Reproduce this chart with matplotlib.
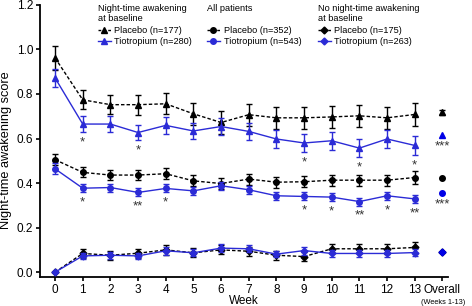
import numpy as np
import matplotlib
matplotlib.use('Agg')
import matplotlib.pyplot as plt
from matplotlib.lines import Line2D

plt.rcParams['font.family'] = ['Liberation Sans', 'DejaVu Sans']

# 周次（0-13）以及 Overall
weeks = list(range(14))
tick_labels = [str(w) for w in weeks] + ['Overall']

# 基线有夜间觉醒
nta_pbo = [0.962, 0.774, 0.752, 0.752, 0.756, 0.711, 0.672, 0.707, 0.693, 0.693, 0.697, 0.702, 0.693, 0.708]
nta_pbo_err = [0.055, 0.042, 0.043, 0.045, 0.048, 0.05, 0.05, 0.05, 0.05, 0.05, 0.05, 0.05, 0.05, 0.05]
nta_tio = [0.872, 0.665, 0.665, 0.627, 0.659, 0.634, 0.654, 0.632, 0.598, 0.580, 0.590, 0.557, 0.598, 0.569]
nta_tio_err = [0.04, 0.035, 0.035, 0.035, 0.037, 0.037, 0.037, 0.037, 0.04, 0.04, 0.04, 0.04, 0.042, 0.042]
nta_overall = [0.717, 0.617]
nta_overall_err = [0.012, 0.0]

# 所有患者
all_pbo = [0.505, 0.448, 0.436, 0.436, 0.442, 0.410, 0.398, 0.418, 0.404, 0.406, 0.413, 0.413, 0.413, 0.425]
all_pbo_err = [0.025, 0.022, 0.022, 0.022, 0.025, 0.025, 0.025, 0.025, 0.025, 0.025, 0.025, 0.025, 0.025, 0.028]
all_tio = [0.464, 0.377, 0.380, 0.358, 0.376, 0.365, 0.388, 0.370, 0.343, 0.340, 0.337, 0.317, 0.343, 0.329]
all_tio_err = [0.025, 0.018, 0.018, 0.018, 0.018, 0.018, 0.018, 0.018, 0.018, 0.018, 0.018, 0.018, 0.018, 0.018]
all_overall = [0.421, 0.355]

# 基线无夜间觉醒
no_pbo = [0.0, 0.084, 0.076, 0.085, 0.100, 0.087, 0.100, 0.094, 0.076, 0.070, 0.105, 0.105, 0.105, 0.111]
no_pbo_err = [0.0, 0.022, 0.02, 0.02, 0.022, 0.02, 0.02, 0.02, 0.02, 0.02, 0.02, 0.02, 0.022, 0.025]
no_tio = [0.0, 0.073, 0.076, 0.073, 0.096, 0.087, 0.108, 0.105, 0.081, 0.097, 0.084, 0.084, 0.084, 0.088]
no_tio_err = [0.0, 0.015, 0.015, 0.015, 0.018, 0.015, 0.018, 0.015, 0.015, 0.018, 0.015, 0.015, 0.015, 0.015]
no_overall = [0.09, 0.09]

# 显著性标记
nta_stars = {1: '*', 3: '*', 9: '*', 11: '*', 13: '*'}
all_stars = {1: '*', 3: '**', 4: '*', 9: '*', 10: '*', 11: '**', 12: '*', 13: '**'}

blue = '#0000e6'
blue_line = '#2b2bd6'
dash = (0, (2.5, 1.5))

fig = plt.figure(figsize=(4.72, 3.06), dpi=100)
ax = fig.add_axes([0.085, 0.096, 0.864, 0.888])

def draw(y, err, marker, color, ls, ms, z):
    ax.errorbar(weeks, y, yerr=err, color=color, ls=ls, lw=1.0, marker=marker,
                ms=ms, capsize=2.5, elinewidth=1.0, capthick=1.0, zorder=z)

draw(nta_pbo, nta_pbo_err, '^', 'black', dash, 4.5, 3)
draw(nta_tio, nta_tio_err, '^', blue_line, '-', 4.5, 4)
draw(all_pbo, all_pbo_err, 'o', 'black', dash, 4, 3)
draw(all_tio, all_tio_err, 'o', blue_line, '-', 4, 4)
draw(no_pbo, no_pbo_err, 'D', 'black', dash, 3.5, 3)
draw(no_tio, no_tio_err, 'D', blue_line, '-', 3.5, 4)

# Overall 点
ax.errorbar([14], [nta_overall[0]], yerr=[nta_overall_err[0]], color='black', marker='^',
            ms=4.5, capsize=2.5, elinewidth=1.0, capthick=1.0, ls='none')
ax.plot([14], [nta_overall[1]], marker='^', color=blue, ms=4.5, ls='none')
ax.plot([14], [all_overall[0]], marker='o', color='black', ms=4, ls='none')
ax.plot([14], [all_overall[1]], marker='o', color=blue, ms=4, ls='none')
ax.plot([14], [no_overall[0]], marker='D', color='black', ms=3.5, ls='none')
ax.plot([14], [no_overall[1]], marker='D', color=blue, ms=3.5, ls='none')

for w, s in nta_stars.items():
    ax.annotate(s, (w, nta_tio[w] - nta_tio_err[w]), xytext=(0, -3), textcoords='offset points',
                ha='center', va='top', fontsize=9.5, color='#333333')
for w, s in all_stars.items():
    ax.annotate(s, (w, all_tio[w] - all_tio_err[w]), xytext=(0, -3), textcoords='offset points',
                ha='center', va='top', fontsize=9.5, color='#333333')
ax.annotate('***', (14, nta_overall[1]), xytext=(0, -4), textcoords='offset points',
            ha='center', va='top', fontsize=9.5, color='#333333')
ax.annotate('***', (14, all_overall[1]), xytext=(0, -4), textcoords='offset points',
            ha='center', va='top', fontsize=9.5, color='#333333')

ax.set_xlim(-0.54, 14.2)
ax.set_ylim(-0.02, 1.2)
ax.set_xticks(range(15))
ax.set_xticklabels(tick_labels)
ax.set_yticks(np.arange(0, 1.21, 0.2))
ax.set_yticklabels(['%.1f' % v for v in np.arange(0, 1.21, 0.2)])
ax.tick_params(labelsize=8.5, length=3, width=1.2, direction='out', pad=2)
ax.spines['top'].set_visible(False)
ax.spines['right'].set_visible(False)
ax.spines['left'].set_linewidth(1.3)
ax.spines['bottom'].set_linewidth(1.3)
ax.set_xlabel('Week', fontsize=8.5, labelpad=-0.5)
ax.set_ylabel('Night-time awakening score', fontsize=9.2)
ax.yaxis.set_label_coords(-0.068, 0.466)
fig.text(443 / 472, 1 - 303 / 306, '(Weeks 1-13)', fontsize=5.3, ha='center', va='center')

# 图例
titles = ['Night-time awakening\nat baseline', 'All patients', 'No night-time awakening\nat baseline']
labels = [['Placebo (n=177)', 'Tiotropium (n=280)'],
          ['Placebo (n=352)', 'Tiotropium (n=543)'],
          ['Placebo (n=175)', 'Tiotropium (n=263)']]
markers = ['^', 'o', 'D']
msizes = [4.5, 4, 3.5]
xs = [98, 207, 318]
for i in range(3):
    fig.text(xs[i] / 472, 1 - 4 / 306, titles[i], fontsize=6.6, ha='left', va='top', linespacing=1.2)
    handles = [Line2D([], [], color='black', ls=(0, (2, 1.5)), marker=markers[i], ms=msizes[i], lw=1),
               Line2D([], [], color=blue_line, ls='-', marker=markers[i], ms=msizes[i], lw=1)]
    leg = fig.legend(handles, labels[i], loc='upper left', bbox_to_anchor=(xs[i] / 472, 1 - 26 / 306),
                     frameon=False, fontsize=6.6, borderpad=0, borderaxespad=0, handlelength=1.4,
                     handletextpad=0.4, labelspacing=0.25)

fig.savefig('out.png', dpi=100)
